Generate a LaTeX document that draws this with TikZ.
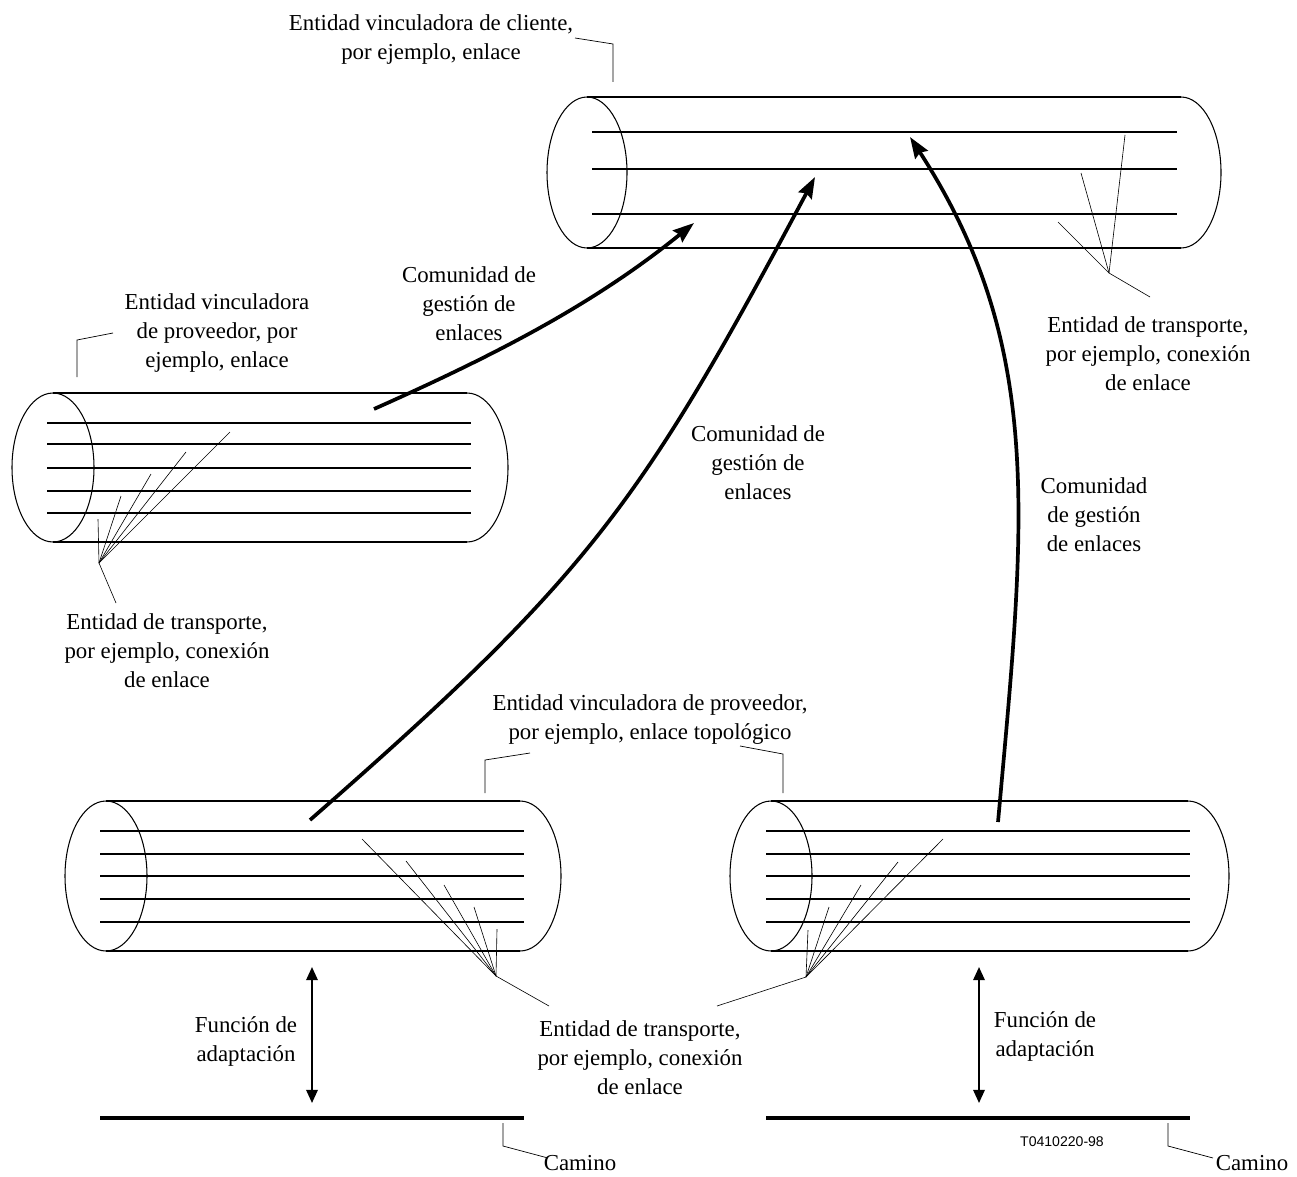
\documentclass[tikz,border=0pt]{standalone}
\usepackage{fontspec}
\setmainfont{Liberation Serif}
\newfontfamily\figfont{Liberation Sans}
\usetikzlibrary{arrows.meta}

% tube: left x, right x, top y, bottom y, end radius
\newcommand{\tube}[5]{%
  \draw[rim] (#1,{(#3+#4)/2}) ellipse [x radius=#5, y radius={(#4-#3)/2}];
  \draw[rim] (#2,#3) arc [start angle=-90, end angle=90, x radius=#5, y radius={(#4-#3)/2}];
  \draw[shell] (#1,#3) -- (#2,#3) (#1,#4) -- (#2,#4);
}

\begin{document}
\begin{tikzpicture}[x=0.02cm,y=-0.02cm,
  txt/.style={align=center,inner sep=0pt,font=\fontsize{13}{16.5}\selectfont}]
\tikzstyle{rim} = [line width=0.6pt]
\tikzstyle{shell} = [line width=1.05pt]
\tikzstyle{wire} = [line width=1.05pt]
\tikzstyle{fan} = [line width=0.35pt]
\tikzstyle{leader} = [line width=0.4pt]
\tikzstyle{link} = [line width=2.1pt,-{Stealth[length=12pt,width=8.5pt,inset=1.5pt]}]
\tikzstyle{adapt} = [line width=1.2pt,{Triangle[length=7.5pt,width=6.5pt]}-{Triangle[length=7.5pt,width=6.5pt]}]
\tikzstyle{pathline} = [line width=2.8pt]

\useasboundingbox (0,0) rectangle (1297,1176);

% tubes
\tube{587}{1181}{97}{248}{40}
\foreach \yy in {132,169,214} \draw[wire] (592,\yy) -- (1177,\yy);
\tube{53}{467}{393}{542}{41}
\foreach \yy in {423,444,468,491,513} \draw[wire] (47,\yy) -- (471,\yy);
\tube{106}{520}{801}{951}{41}
\foreach \yy in {831,854,876,899,922} \draw[wire] (100,\yy) -- (524,\yy);
\tube{771}{1188}{801}{951}{41}
\foreach \yy in {831,854,876,899,922} \draw[wire] (766,\yy) -- (1190,\yy);

% labels
\node[txt] (cliente) at (431,40) {Entidad vinculadora de cliente,\\por ejemplo, enlace};
\node[txt] (provL) at (217,333) {Entidad vinculadora\\de proveedor, por\\ejemplo, enlace};
\node[txt] (transL) at (167,651) {Entidad de transporte,\\por ejemplo, conexión\\de enlace};
\node[txt] (gest1) at (469,304) {Comunidad de\\gestión de\\enlaces};
\node[txt] (gest2) at (758,463) {Comunidad de\\gestión de\\enlaces};
\node[txt] (gest3) at (1094,515) {Comunidad\\de gestión\\de enlaces};
\node[txt] (transR) at (1148,354) {Entidad de transporte,\\por ejemplo, conexión\\de enlace};
\node[txt] (provB) at (650,720) {Entidad vinculadora de proveedor,\\por ejemplo, enlace topológico};
\node[txt] (transB) at (640,1058) {Entidad de transporte,\\por ejemplo, conexión\\de enlace};
\node[txt] (adaptL) at (246,1041) {Función de\\adaptación};
\node[txt] (adaptR) at (1045,1036) {Función de\\adaptación};
\node[txt] (caminoL) at (580,1163) {Camino};
\node[txt] (caminoR) at (1252,1163) {Camino};
\node[inner sep=0pt,font=\figfont\fontsize{8}{10}\selectfont] (figno) at (1062,1142) {T0410220-98};

% fans of transport entities
\coordinate (fanT) at (1109,273);
\foreach \px/\py in {1125/135,1081/173,1058/222} \draw[fan] (fanT) -- (\px,\py);
\draw[fan] (fanT) -- (1150,297);
\coordinate (fanL) at (99,563);
\foreach \px/\py in {98/519,121/496,151/474,186/452,230/432} \draw[fan] (fanL) -- (\px,\py);
\draw[fan] (fanL) -- (116,603);
\coordinate (fanBL) at (496,976);
\foreach \px/\py in {362/839,406/861,444/885,474/907,497/929} \draw[fan] (fanBL) -- (\px,\py);
\draw[fan] (fanBL) -- (549,1006);
\coordinate (fanBR) at (806,977);
\foreach \px/\py in {808/930,829/907,861/885,898/862,943/839} \draw[fan] (fanBR) -- (\px,\py);
\draw[fan] (fanBR) -- (717,1006);

% leaders
\draw[leader] (575,38) -- (613,44) -- (613,82);
\draw[leader] (113,333) -- (77,340) -- (77,377);
\draw[leader] (530,753) -- (485,760) -- (485,793);
\draw[leader] (740,746) -- (783,754) -- (783,793);
\draw[leader] (503,1123) -- (503,1146) -- (548,1158);
\draw[leader] (1168,1123) -- (1168,1146) -- (1213,1158);

% management communities
\coordinate (a1s) at (374,409);
\coordinate (a1e) at (694,223);
\coordinate (a2s) at (310,820);
\coordinate (a2e) at (815,177);
\coordinate (a3s) at (998,822);
\coordinate (a3e) at (910,137);
\draw[link] (a1s) .. controls (493,356) and (593,305) .. (a1e);
\draw[link] (a2s) .. controls (590,575) and (640,505) .. (a2e);
\draw[link] (a3s) .. controls (1025,523) and (1046,347) .. (a3e);

% adaptation and paths
\draw[adapt] (312,967) -- (312,1103);
\draw[adapt] (979,967) -- (979,1103);
\draw[pathline] (100,1118) -- (524,1118);
\draw[pathline] (766,1118) -- (1190,1118);

\end{tikzpicture}
\end{document}
